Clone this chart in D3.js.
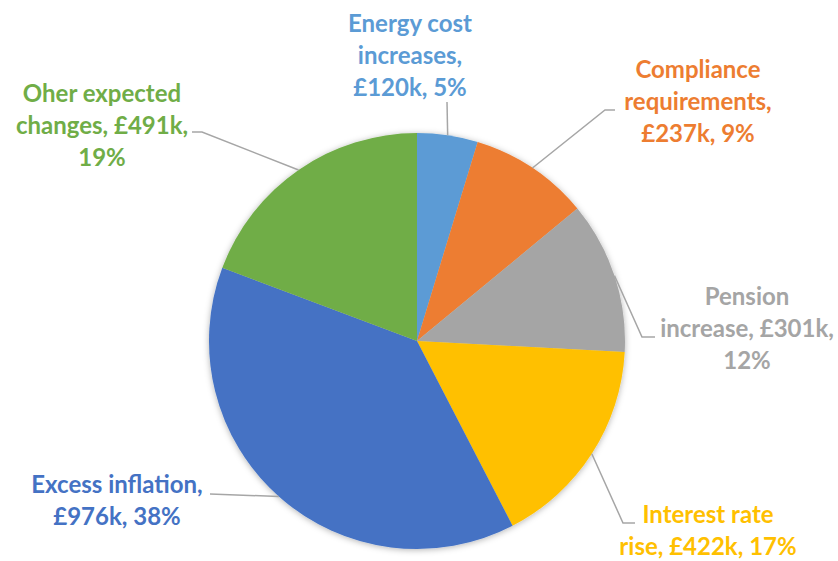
<!DOCTYPE html>
<html>
<head>
<meta charset="utf-8">
<script src="https://cdn.jsdelivr.net/npm/d3@7"></script>
<style>
  body { margin: 0; background: #fff; }
  svg { display: block; }
  .lbl { font-family: Lato, "Open Sans", sans-serif; font-weight: 700; font-size: 24px; }
</style>
</head>
<body>
<svg id="chart" width="838" height="561"></svg>
<script>
// data
const categories = ['Energy cost increases', 'Compliance requirements', 'Pension increase',
  'Interest rate rise', 'Excess inflation', 'Oher expected changes'];
const values = [120, 237, 301, 422, 976, 491];
const colors = ['#5B9BD5', '#ED7D31', '#A5A5A5', '#FFC000', '#4472C4', '#70AD47'];
// label text lines, as wrapped in the original
const labelLines = [
  ['Energy cost', 'increases,', '£120k, 5%'],
  ['Compliance', 'requirements,', '£237k, 9%'],
  ['Pension', 'increase, £301k,', '12%'],
  ['Interest rate', 'rise, £422k, 17%'],
  ['Excess inflation,', '£976k, 38%'],
  ['Oher expected', 'changes, £491k,', '19%']
];

// layout: label centre x, first baseline y, leader elbow points
const layout = [
  { x: 410, y: 32, pts: [[447, 102]] },
  { x: 698, y: 78, pts: [[605, 110], [615, 110]] },
  { x: 747, y: 305, pts: [[642, 337], [655, 337]] },
  { x: 708, y: 523, pts: [[623, 523], [635, 523]] },
  { x: 117, y: 493, pts: [[210, 494]] },
  { x: 102, y: 102, pts: [[202, 132], [192, 132]] }
];

const svg = d3.select('#chart');
const cx = 417, cy = 341, r = 208, lineH = 32;

const defs = svg.append('defs');
const f = defs.append('filter').attr('id', 'shadow')
  .attr('x', '-10%').attr('y', '-10%').attr('width', '120%').attr('height', '120%');
f.append('feDropShadow').attr('dx', 0).attr('dy', 1).attr('stdDeviation', 3)
  .attr('flood-color', '#000').attr('flood-opacity', 0.3);

const pie = d3.pie().sort(null).value(d => d);
const arcs = pie(values);
const arc = d3.arc().innerRadius(0).outerRadius(r);
const edge = d3.arc().innerRadius(r).outerRadius(r);

const g = svg.append('g').attr('transform', `translate(${cx},${cy})`);
g.append('g').attr('filter', 'url(#shadow)')
  .selectAll('path').data(arcs).enter().append('path')
  .attr('d', arc)
  .attr('fill', (d, i) => colors[i]);

// leader lines
const line = d3.line();
arcs.forEach((d, i) => {
  const c = edge.centroid(d);
  const p = [[cx + c[0], cy + c[1]]].concat(layout[i].pts);
  svg.append('path')
    .attr('d', line(p))
    .attr('fill', 'none')
    .attr('stroke', '#A6A6A6')
    .attr('stroke-width', 1.5);
});

// labels
labelLines.forEach((lines, i) => {
  const t = svg.append('text').attr('class', 'lbl')
    .attr('text-anchor', 'middle')
    .attr('fill', colors[i]);
  lines.forEach((s, j) => {
    t.append('tspan').attr('x', layout[i].x).attr('y', layout[i].y + j * lineH).text(s);
  });
});
</script>
</body>
</html>
